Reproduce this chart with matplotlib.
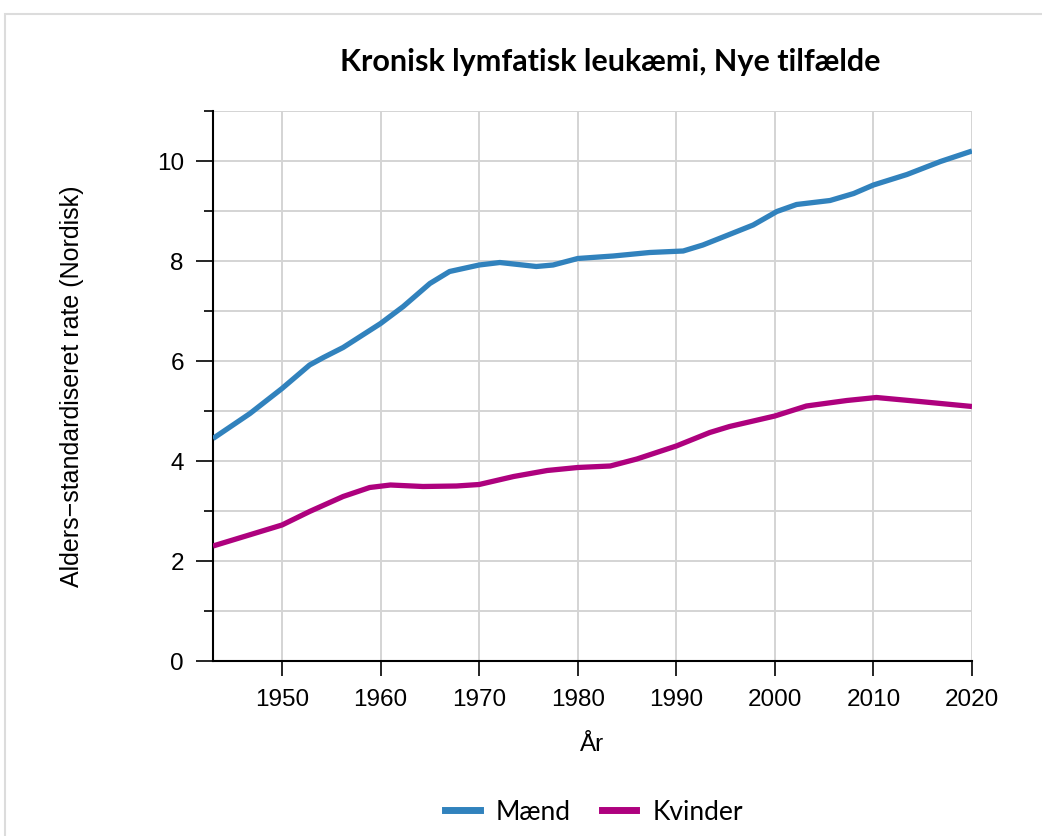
import matplotlib
matplotlib.use("Agg")
import matplotlib.pyplot as plt
from matplotlib.patches import Rectangle
from matplotlib.lines import Line2D

# Data
years_m = [1943, 1946.75, 1950, 1952.8, 1954.2, 1956.2, 1960, 1962.3, 1965, 1967, 1970, 1972.1, 1975.8, 1977.5,
           1980, 1983.6, 1987.3, 1990.7, 1992.7, 1995, 1997.8, 2000.2, 2002.2, 2005.6, 2008, 2010, 2013.4,
           2016.8, 2020]
maend = [4.45, 4.95, 5.45, 5.92, 6.07, 6.27, 6.75, 7.09, 7.55, 7.79, 7.92, 7.97, 7.89, 7.92,
         8.05, 8.10, 8.17, 8.20, 8.32, 8.50, 8.72, 8.99, 9.13, 9.21, 9.35, 9.52, 9.73,
         9.99, 10.2]

years_k = [1943, 1950, 1952.8, 1956.2, 1958.9, 1961, 1964.3, 1967.7, 1970, 1973.5, 1976.9, 1980, 1983.3,
           1986, 1990, 1993.4, 1995.4, 2000, 2003.2, 2007.3, 2010.3, 2014.7, 2020]
kvinder = [2.30, 2.72, 2.99, 3.29, 3.47, 3.52, 3.49, 3.50, 3.53, 3.69, 3.81, 3.87, 3.90,
           4.04, 4.30, 4.57, 4.69, 4.90, 5.10, 5.21, 5.27, 5.19, 5.09]

xticks = [1950, 1960, 1970, 1980, 1990, 2000, 2010, 2020]
yticks_major = [0, 2, 4, 6, 8, 10]
yticks_minor = [1, 3, 5, 7, 9, 11]

title = "Kronisk lymfatisk leukæmi, Nye tilfælde"
xlabel = "År"
ylabel = "Alders\u2212standardiseret rate (Nordisk)"
labels = ["Mænd", "Kvinder"]
colors = ["#3182bd", "#ae017e"]

fig = plt.figure(figsize=(10.42, 8.36), dpi=100)
fig.patch.set_facecolor("white")
ax = fig.add_axes([213/1042, 1-661/836, (972-213)/1042, (661-111)/836])

# outer panel border
fig.patches.append(Rectangle((5/1042, -0.1), 1.2, 1-14/836+0.1, transform=fig.transFigure,
                             fill=False, edgecolor="#dcdcdc", linewidth=1.5, zorder=0))

ax.plot(years_m, maend, color=colors[0], lw=3.8, solid_capstyle="butt", solid_joinstyle="round", zorder=3)
ax.plot(years_k, kvinder, color=colors[1], lw=3.8, solid_capstyle="butt", solid_joinstyle="round", zorder=3)

ax.set_xlim(1943, 2020)
ax.set_ylim(0, 11)
ax.set_xticks(xticks)
ax.set_yticks(yticks_major)
ax.set_yticks(yticks_minor, minor=True)

ax.grid(True, which="both", axis="y", color="#d4d4d4", lw=1.4, zorder=0)
ax.grid(True, which="major", axis="x", color="#d4d4d4", lw=1.4, zorder=0)
ax.set_axisbelow(True)

for s in ["top", "right"]:
    ax.spines[s].set_visible(False)
for s in ["left", "bottom"]:
    ax.spines[s].set_color("black")
    ax.spines[s].set_linewidth(1.5)

fs = 17.5
ax.tick_params(axis="y", which="major", length=12, width=1.2, pad=9, labelsize=fs)
ax.tick_params(axis="y", which="minor", length=6.5, width=1.2)
ax.tick_params(axis="x", which="major", length=11, width=1.2, pad=9, labelsize=fs)
for lab in ax.get_xticklabels() + ax.get_yticklabels():
    lab.set_fontfamily("Liberation Sans")

ax.set_xlabel(xlabel, fontsize=fs, family="Liberation Sans", labelpad=17)
ax.set_ylabel(ylabel, fontsize=18, family="Liberation Sans", labelpad=52)

fig.text(610/1042, 1-62/836, title, ha="center", va="center", fontsize=22,
         family="Lato", fontweight="bold")

handles = [Line2D([], [], color=c, lw=5) for c in colors]
leg = fig.legend(handles, labels, loc="center", bbox_to_anchor=(594/1042, 1-812/836), ncol=2,
                 frameon=False, handlelength=1.3, columnspacing=1.2, handletextpad=0.6,
                 prop={"family": "Lato", "size": 19})

fig.savefig("out.png", dpi=100, facecolor="white")
